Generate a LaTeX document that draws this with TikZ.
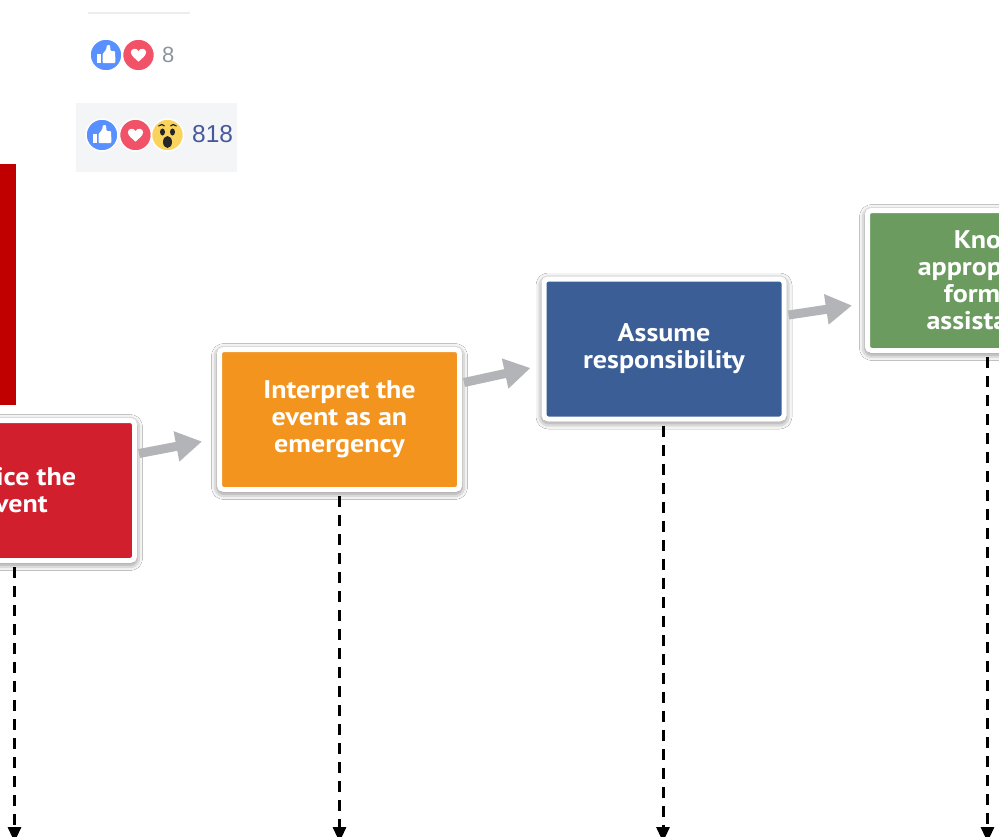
\documentclass[tikz,border=0pt]{standalone}
\usepackage{fontspec}
\newfontfamily\boxfont{PT Sans}[FakeStretch=1.1]
\newfontfamily\fbfont{Liberation Sans}
\usetikzlibrary{arrows.meta,shadows.blur}
\definecolor{boxred}{HTML}{D21F2D}
\definecolor{boxorange}{HTML}{F3941F}
\definecolor{boxblue}{HTML}{3B5E97}
\definecolor{boxgreen}{HTML}{6B9B5F}
\definecolor{arrowgrey}{HTML}{B3B4B8}
\definecolor{sidered}{HTML}{C00000}
\definecolor{fblike}{HTML}{5890FF}
\definecolor{fbheart}{HTML}{F25268}
\definecolor{fbwow}{HTML}{F9D35C}
\definecolor{fbbg}{HTML}{F4F5F7}
\definecolor{fbgrey}{HTML}{8D949E}
\definecolor{fbblue}{HTML}{46599A}
\definecolor{fbline}{HTML}{EBEDF0}
\definecolor{wowdark}{HTML}{262626}
\begin{document}
\begin{tikzpicture}[x=1pt,y=-1pt,
  stepbox/.style={draw=white, line width=5pt, rounded corners=4pt,
    minimum width=240pt, minimum height=140pt, inner sep=0pt,
    text=white, align=center,
    font=\boxfont\bfseries\fontsize{25.5}{27}\selectfont,
    blur shadow={shadow xshift=0pt, shadow yshift=-2pt, shadow blur radius=8pt, shadow opacity=75}},
  flow/.style={draw=arrowgrey, line width=9pt, -{Triangle[length=26pt,width=29pt]}},
  drop/.style={draw=black, line width=3pt, dash pattern=on 11pt off 8pt, -{Triangle[length=15pt,width=13pt]}},
  reac/.style={circle, minimum size=32pt, inner sep=0pt, draw=white, line width=1.5pt},
]
\useasboundingbox (0,0) rectangle (999,836);
\clip (0,0) rectangle (999,836);
\fill[white] (0,0) rectangle (999,836);

% top screenshot pieces
\draw[fbline, line width=2pt] (88,13) -- (190,13);
\fill[fbbg] (76,103) rectangle (237,172);
\fill[sidered] (0,164) rectangle (16,405);

% reactions row 1
\node[reac, fill=fblike] (like1) at (106,55) {};
\node[reac, fill=fbheart] (heart1) at (138.5,55) {};
\node[anchor=west, text=fbgrey, font=\fbfont\fontsize{22}{22}\selectfont, inner sep=0pt] (count1) at (162,55) {8};

% reactions row 2
\node[reac, fill=fblike] (like2) at (102,135) {};
\node[reac, fill=fbheart] (heart2) at (135.5,135) {};
\node[reac, fill=fbwow] (wow2) at (167.5,135) {};
\node[anchor=west, text=fbblue, font=\fbfont\fontsize{24.5}{24.5}\selectfont, inner sep=0pt] (count2) at (192,134) {818};

% glyphs
\foreach \c in {like1,like2}{
  \begin{scope}[shift={(\c.center)}]
    \fill[white] (-9,-1) rectangle (-5,8);
    \fill[white, rounded corners=1pt] (-3.5,-1) -- (0,-5) -- (1,-10) -- (4,-10) -- (4.5,-4) -- (9,-4) -- (9.5,8) -- (-3.5,8) -- cycle;
  \end{scope}
}
\foreach \c in {heart1,heart2}{
  \begin{scope}[shift={(\c.center)}, scale=0.95]
    \fill[white] (0,7) .. controls (-3,4) and (-8,1) .. (-8,-3) .. controls (-8,-7) and (-2,-8) .. (0,-4) .. controls (2,-8) and (8,-7) .. (8,-3) .. controls (8,1) and (3,4) .. (0,7) -- cycle;
  \end{scope}
}
\begin{scope}[shift={(wow2.center)}]
  \draw[wowdark, line width=1.2pt] (-9,-9) .. controls (-7,-11) and (-4,-11) .. (-3,-9);
  \draw[wowdark, line width=1.2pt] (3,-9) .. controls (4,-11) and (7,-11) .. (9,-9);
  \fill[wowdark] (-5,-3) ellipse [x radius=2.5pt, y radius=3.5pt];
  \fill[wowdark] (5,-3) ellipse [x radius=2.5pt, y radius=3.5pt];
  \fill[wowdark] (0,7) ellipse [x radius=4.5pt, y radius=6pt];
\end{scope}

% process boxes
\node[stepbox, fill=boxred] (notice) at (14.5,490.5) {Notice the\\event};
\node[stepbox, fill=boxorange] (interpret) at (339.5,419.5) {Interpret the\\event as an\\emergency};
\node[stepbox, fill=boxblue] (assume) at (664,349) {Assume\\responsibility};
\node[stepbox, fill=boxgreen] (know) at (987.5,280.5) {Know\\appropriate\\form of\\assistance};

% grey flow arrows
\draw[flow] ([xshift=2pt,yshift=37pt]notice.east) -- ([xshift=-15pt,yshift=-22pt]interpret.west);
\draw[flow] ([xshift=2pt,yshift=37pt]interpret.east) -- ([xshift=-11pt,yshift=-19pt]assume.west);
\draw[flow] ([xshift=2pt,yshift=34pt]assume.east) -- ([xshift=-13pt,yshift=-25pt]know.west);

% dashed drops
\coordinate (endA) at (14.5,842);
\coordinate (endB) at (339.5,842);
\coordinate (endC) at (663,842);
\coordinate (endD) at (987.5,842);
\draw[drop] ([yshift=-4pt]notice.south) -- (endA);
\draw[drop] ([yshift=-4pt]interpret.south) -- (endB);
\draw[drop] ([yshift=-4pt,xshift=-1pt]assume.south) -- (endC);
\draw[drop] ([yshift=-4pt]know.south) -- (endD);
\end{tikzpicture}
\end{document}
